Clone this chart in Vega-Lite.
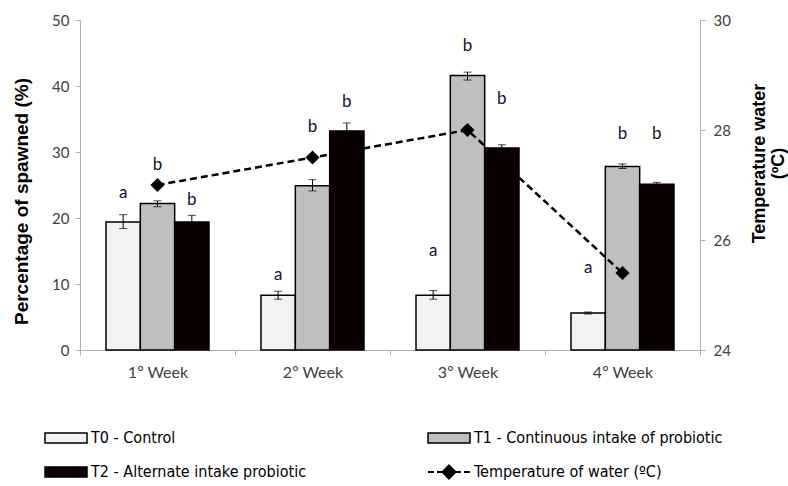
{
  "$schema": "https://vega.github.io/schema/vega-lite/v6.json",
  "autosize": "none",
  "width": 620,
  "height": 330,
  "padding": {"left": 80, "top": 20, "right": 88, "bottom": 136},
  "background": "white",
  "config": {
    "view": {"stroke": null},
    "axis": {"labelFont": "Lato", "labelFontSize": 15, "labelColor": "#404040", "domainColor": "#b0b0b0", "tickColor": "#b0b0b0", "tickSize": 5, "grid": false, "titleFont": "Liberation Sans", "titleFontSize": 19, "titleFontWeight": "bold", "titleColor": "#000000"}
  },
  "datasets": {
    "bars": [
      {"week": "1º Week", "series": "T0 - Control", "value": 19.4, "lo": 18.4, "hi": 20.5, "letter": "a", "letter_y": 23.8},
      {"week": "1º Week", "series": "T1 - Continuous intake of probiotic", "value": 22.2, "lo": 21.7, "hi": 22.6, "letter": "b", "letter_y": 28.0},
      {"week": "1º Week", "series": "T2 - Alternate intake probiotic", "value": 19.4, "lo": 18.5, "hi": 20.4, "letter": "b", "letter_y": 22.7},
      {"week": "2º Week", "series": "T0 - Control", "value": 8.3, "lo": 7.7, "hi": 8.9, "letter": "a", "letter_y": 11.4},
      {"week": "2º Week", "series": "T1 - Continuous intake of probiotic", "value": 24.9, "lo": 24.1, "hi": 25.8, "letter": "b", "letter_y": 33.8},
      {"week": "2º Week", "series": "T2 - Alternate intake probiotic", "value": 33.2, "lo": 32.0, "hi": 34.4, "letter": "b", "letter_y": 37.6},
      {"week": "3º Week", "series": "T0 - Control", "value": 8.3, "lo": 7.7, "hi": 9.0, "letter": "a", "letter_y": 15.0},
      {"week": "3º Week", "series": "T1 - Continuous intake of probiotic", "value": 41.6, "lo": 40.9, "hi": 42.1, "letter": "b", "letter_y": 46.0},
      {"week": "3º Week", "series": "T2 - Alternate intake probiotic", "value": 30.6, "lo": 30.2, "hi": 31.1, "letter": "b", "letter_y": 38.0},
      {"week": "4º Week", "series": "T0 - Control", "value": 5.6, "lo": 5.45, "hi": 5.75, "letter": "a", "letter_y": 12.4},
      {"week": "4º Week", "series": "T1 - Continuous intake of probiotic", "value": 27.8, "lo": 27.5, "hi": 28.2, "letter": "b", "letter_y": 32.7},
      {"week": "4º Week", "series": "T2 - Alternate intake probiotic", "value": 25.1, "lo": 24.9, "hi": 25.4, "letter": "b", "letter_y": 32.7}
    ],
    "temp": [
      {"week": "1º Week", "temperature": 27.0},
      {"week": "2º Week", "temperature": 27.5},
      {"week": "3º Week", "temperature": 28.0},
      {"week": "4º Week", "temperature": 25.4}
    ]
  },
  "encoding": {
    "x": {"field": "week", "type": "nominal", "sort": null,
      "scale": {"paddingInner": 0, "paddingOuter": 0},
      "axis": {"title": null, "labelAngle": 0, "tickBand": "extent", "labelPadding": 9, "labelFontSize": 16}}
  },
  "layer": [
    {
      "data": {"name": "bars"},
      "encoding": {
        "xOffset": {"field": "series", "type": "nominal", "sort": null,
          "scale": {"domain": ["T0 - Control", "T1 - Continuous intake of probiotic", "T2 - Alternate intake probiotic"], "paddingInner": 0, "paddingOuter": 0.757}}
      },
      "layer": [
        {
          "mark": {"type": "bar", "stroke": "#000000", "strokeWidth": 1.5},
          "encoding": {
            "y": {"field": "value", "type": "quantitative",
              "scale": {"domain": [0, 50]},
              "axis": {"title": "Percentage of spawned (%)", "values": [0, 10, 20, 30, 40, 50], "labelPadding": 6, "titleX": -49, "titleY": 181}},
            "fill": {"field": "series", "type": "nominal",
              "scale": {"domain": ["T0 - Control", "T1 - Continuous intake of probiotic", "T2 - Alternate intake probiotic", "Temperature of water (ºC)"],
                "range": ["#f2f2f2", "#bfbfbf", "#0a0000", "#000000"]},
              "legend": {
                "orient": "none", "legendX": -22, "legendY": 410, "direction": "horizontal", "columns": 2,
                "title": null, "symbolType": "M-4.2,-1H4.2V1H-4.2Z", "symbolSize": 100,
                "symbolStrokeColor": "#000000", "symbolStrokeWidth": 1.5, "labelOffset": 17,
                "labelFont": "Liberation Sans Narrow, DejaVu Sans Condensed, sans-serif", "labelFontSize": 16, "labelColor": "#000000",
                "labelLimit": 400, "columnPadding": 117, "rowPadding": 15,
                "encode": {"symbols": {"update": {"shape": {"signal": "datum.value === 'Temperature of water (ºC)' ? 'M-4.2,0H-3M-2.4,0H-1.2M1.2,0H2.4M3,0H4.2M0,-1.3L1.3,0L0,1.3L-1.3,0Z' : 'M-4.2,-1H4.2V1H-4.2Z'"}, "strokeWidth": {"signal": "datum.value === 'Temperature of water (ºC)' ? 2 : 1.5"}}}}
              }}
          }
        },
        {
          "mark": {"type": "rule", "color": "#000000", "strokeWidth": 1},
          "encoding": {
            "y": {"field": "lo", "type": "quantitative", "title": "Percentage of spawned (%)"},
            "y2": {"field": "hi"}
          }
        },
        {
          "mark": {"type": "tick", "color": "#000000", "thickness": 1, "size": 8},
          "encoding": {"y": {"field": "lo", "type": "quantitative", "title": "Percentage of spawned (%)"}}
        },
        {
          "mark": {"type": "tick", "color": "#000000", "thickness": 1, "size": 8},
          "encoding": {"y": {"field": "hi", "type": "quantitative", "title": "Percentage of spawned (%)"}}
        },
        {
          "mark": {"type": "text", "font": "Lato", "fontSize": 17, "color": "#111133", "baseline": "middle"},
          "encoding": {
            "y": {"field": "letter_y", "type": "quantitative", "title": "Percentage of spawned (%)"},
            "text": {"field": "letter"}
          }
        }
      ]
    },
    {
      "data": {"name": "temp"},
      "encoding": {
        "y": {"field": "temperature", "type": "quantitative",
          "scale": {"domain": [24, 30]},
          "axis": {"orient": "right", "values": [24, 26, 28, 30], "title": ["Temperature water", "(ºC)"], "titleAngle": 270, "titleFontSize": 18, "titleLineHeight": 19, "labelPadding": 8, "titleX": 68, "titleY": 143}}
      },
      "layer": [
        {"mark": {"type": "line", "color": "#000000", "strokeWidth": 2.5, "strokeDash": [7, 4]}},
        {"mark": {"type": "point", "shape": "diamond", "size": 200, "filled": true, "color": "#000000", "opacity": 1}}
      ]
    }
  ],
  "resolve": {"scale": {"y": "independent"}}
}
